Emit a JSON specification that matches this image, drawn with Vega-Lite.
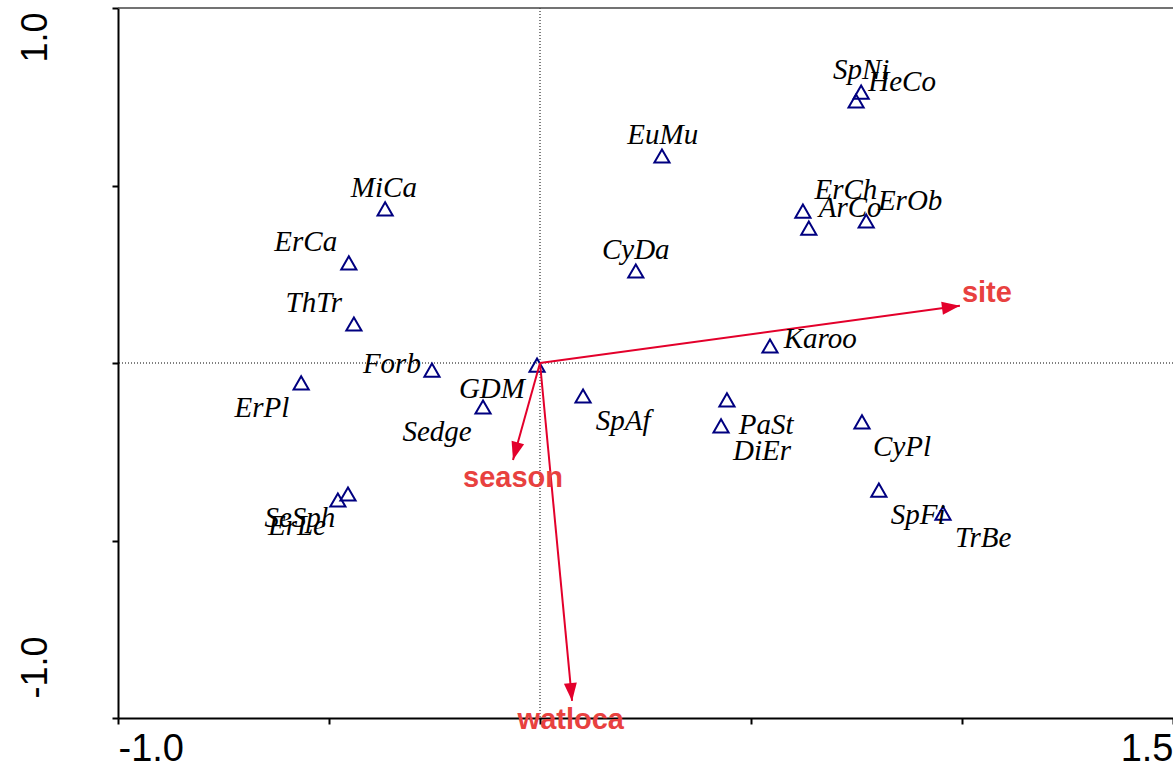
{
  "$schema": "https://vega.github.io/schema/vega-lite/v6.json",
  "width": 1055,
  "height": 710,
  "autosize": {"type": "none"},
  "padding": {"left": 118, "top": 8, "right": 0, "bottom": 46},
  "background": "white",
  "config": {
    "view": {"stroke": null},
    "axis": {
      "grid": false,
      "title": null,
      "domainColor": "#000000",
      "domainWidth": 2,
      "tickColor": "#000000",
      "tickWidth": 2,
      "tickSize": 6,
      "labelColor": "#000000",
      "labelFont": "Liberation Sans",
      "labelOverlap": false
    }
  },
  "datasets": {
    "species": [
      {"name": "MiCa", "x": -0.367, "y": 0.434, "lx": -0.370, "ly": 0.493},
      {"name": "ErCa", "x": -0.453, "y": 0.282, "lx": -0.555, "ly": 0.341},
      {"name": "ThTr", "x": -0.441, "y": 0.110, "lx": -0.536, "ly": 0.169},
      {"name": "Forb", "x": -0.256, "y": -0.020, "lx": -0.351, "ly": -0.003},
      {"name": "ErPl", "x": -0.566, "y": -0.056, "lx": -0.659, "ly": -0.127},
      {"name": "Sedge", "x": -0.135, "y": -0.124, "lx": -0.244, "ly": -0.194},
      {"name": "GDM", "x": -0.007, "y": -0.006, "lx": -0.114, "ly": -0.073},
      {"name": "SeSph", "x": -0.455, "y": -0.369, "lx": -0.569, "ly": -0.437},
      {"name": "ErLe", "x": -0.479, "y": -0.386, "lx": -0.576, "ly": -0.459},
      {"name": "SpAf", "x": 0.102, "y": -0.093, "lx": 0.197, "ly": -0.163},
      {"name": "PaSt", "x": 0.443, "y": -0.104, "lx": 0.536, "ly": -0.175},
      {"name": "DiEr", "x": 0.429, "y": -0.177, "lx": 0.526, "ly": -0.248},
      {"name": "Karoo", "x": 0.545, "y": 0.048, "lx": 0.664, "ly": 0.068},
      {"name": "CyPl", "x": 0.763, "y": -0.166, "lx": 0.858, "ly": -0.237},
      {"name": "SpFi", "x": 0.803, "y": -0.358, "lx": 0.896, "ly": -0.428},
      {"name": "TrBe", "x": 0.955, "y": -0.423, "lx": 1.050, "ly": -0.493},
      {"name": "EuMu", "x": 0.289, "y": 0.583, "lx": 0.291, "ly": 0.642},
      {"name": "CyDa", "x": 0.227, "y": 0.259, "lx": 0.227, "ly": 0.318},
      {"name": "ErCh", "x": 0.623, "y": 0.428, "lx": 0.725, "ly": 0.487},
      {"name": "ArCo", "x": 0.637, "y": 0.380, "lx": 0.735, "ly": 0.437},
      {"name": "ErOb", "x": 0.773, "y": 0.400, "lx": 0.877, "ly": 0.456},
      {"name": "SpNi", "x": 0.749, "y": 0.738, "lx": 0.761, "ly": 0.825},
      {"name": "HeCo", "x": 0.761, "y": 0.763, "lx": 0.858, "ly": 0.792}
    ],
    "vectors": [
      {"name": "site", "x": 0.995, "y": 0.161, "lx": 1.059, "ly": 0.197},
      {"name": "season", "x": -0.064, "y": -0.273, "lx": -0.064, "ly": -0.324},
      {"name": "watloca", "x": 0.076, "y": -0.952, "lx": 0.073, "ly": -1.006}
    ]
  },
  "layer": [
    {
      "data": {"values": [{"v": 0}]},
      "mark": {"type": "rule", "color": "#000000", "strokeWidth": 1, "strokeDash": [1, 2]},
      "encoding": {
        "x": {
          "field": "v",
          "type": "quantitative",
          "scale": {"domain": [-1, 1.5], "nice": false, "zero": false},
          "axis": {
            "values": [-1, -0.5, 0, 0.5, 1, 1.5],
            "labelExpr": "datum.value == -1 ? '-1.0' : (datum.value == 1.5 ? '1.5' : '')",
            "labelFontSize": 38,
            "labelFlush": true,
            "labelPadding": 6
          }
        }
      }
    },
    {
      "data": {"values": [{"v": 0}]},
      "mark": {"type": "rule", "color": "#000000", "strokeWidth": 1, "strokeDash": [1, 2]},
      "encoding": {
        "y": {
          "field": "v",
          "type": "quantitative",
          "scale": {"domain": [-1, 1], "nice": false, "zero": false},
          "axis": {
            "values": [-1, -0.5, 0, 0.5, 1],
            "labelExpr": "datum.value == -1 ? '-1.0' : (datum.value == 1 ? '1.0' : '')",
            "labelFontSize": 36,
            "labelAngle": 270,
            "labelFlush": false,
            "labelBaseline": "alphabetic",
            "labelAlign": {"condition": {"test": "datum.value > 0", "value": "right"}, "value": "left"},
            "labelOffset": {"condition": {"test": "datum.value > 0", "value": 4}, "value": -20},
            "labelPadding": 66
          }
        }
      }
    },
    {
      "data": {"values": [{"v": 1}]},
      "mark": {"type": "rule", "color": "#444444", "strokeWidth": 1.5},
      "encoding": {
        "y": {"field": "v", "type": "quantitative"}
      }
    },
    {
      "data": {"name": "species"},
      "mark": {"type": "point", "shape": "triangle-up", "filled": false, "stroke": "#000080", "strokeWidth": 2, "size": 230, "opacity": 1},
      "encoding": {
        "x": {"field": "x", "type": "quantitative"},
        "y": {"field": "y", "type": "quantitative"}
      }
    },
    {
      "data": {"name": "vectors"},
      "mark": {"type": "rule", "color": "#e3002b", "strokeWidth": 2},
      "encoding": {
        "x": {"field": "x", "type": "quantitative"},
        "y": {"field": "y", "type": "quantitative"},
        "x2": {"datum": 0},
        "y2": {"datum": 0}
      }
    },
    {
      "data": {"name": "vectors"},
      "mark": {
        "type": "point",
        "shape": "M0,0L-0.72,2L0.72,2Z",
        "filled": true,
        "color": "#e3002b",
        "opacity": 1,
        "size": 324
      },
      "encoding": {
        "x": {"field": "x", "type": "quantitative"},
        "y": {"field": "y", "type": "quantitative"},
        "angle": {"value": {"expr": "atan2(datum.x*422, datum.y*355)*180/PI"}}
      }
    },
    {
      "data": {"name": "vectors"},
      "mark": {"type": "text", "font": "Liberation Sans", "fontWeight": "bold", "fontSize": 29, "color": "#e8413f", "align": "center", "baseline": "middle"},
      "encoding": {
        "x": {"field": "lx", "type": "quantitative"},
        "y": {"field": "ly", "type": "quantitative"},
        "text": {"field": "name"}
      }
    },
    {
      "data": {"name": "species"},
      "mark": {"type": "text", "font": "Liberation Serif", "fontStyle": "italic", "fontSize": 29, "color": "#000000", "align": "center", "baseline": "middle"},
      "encoding": {
        "x": {"field": "lx", "type": "quantitative"},
        "y": {"field": "ly", "type": "quantitative"},
        "text": {"field": "name"}
      }
    }
  ]
}
